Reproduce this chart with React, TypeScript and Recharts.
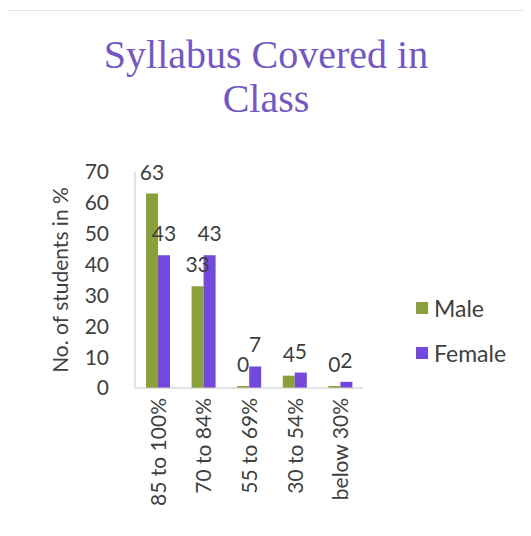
import { BarChart, Bar, XAxis, YAxis, LabelList } from "recharts"

const categories = ["85 to 100%", "70 to 84%", "55 to 69%", "30 to 54%", "below 30%"]
const male = [63, 33, 0, 4, 0]
const female = [43, 43, 7, 5, 2]
const yTicks = [0, 10, 20, 30, 40, 50, 60, 70]

const seriesInfo = [
  { key: "male", name: "Male", color: "#8aa03a" },
  { key: "female", name: "Female", color: "#7349dc" }
]

const data = categories.map((name, i) => ({ name, male: male[i], female: female[i] }))

const FONT = "Lato, 'Open Sans', sans-serif"

const XTick = (props: any) => {
  const { x, y, payload } = props
  return (
    <text
      x={x}
      y={y}
      transform={`rotate(-90, ${x}, ${y})`}
      textAnchor="end"
      dy={8}
      dx={-2}
      fill="#404040"
      fontSize={21}
      fontFamily={FONT}
    >
      {payload.value}
    </text>
  )
}

export default function App() {
  return (
    <div
      style={{
        position: "relative",
        width: 523,
        height: 528,
        marginLeft: -4,
        marginTop: 2,
        borderLeft: "1px solid #cfcfcf",
        borderTop: "1px solid #e4e4e4",
        background: "#fff"
      }}
    >
      <div
        style={{
          position: "absolute",
          left: 0,
          top: 22,
          width: 522,
          textAlign: "center",
          fontFamily: "'Liberation Serif', 'Times New Roman', serif",
          fontSize: 40,
          lineHeight: "44px",
          color: "#7358c4"
        }}
      >
        Syllabus Covered in
        <br />
        Class
      </div>
      <div style={{ position: "absolute", left: 0, top: 0 }}>
        <BarChart
          width={523}
          height={528}
          data={data}
          margin={{ top: 161, right: 165, left: 35, bottom: 0 }}
          barGap={0}
          barSize={12}
        >
          <XAxis
            dataKey="name"
            tick={<XTick />}
            interval={0}
            height={151}
            axisLine={{ stroke: "#c8c8c8" }}
            tickLine={false}
          />
          <YAxis
            domain={[0, 70]}
            ticks={yTicks}
            interval={0}
            width={95}
            tick={{ fill: "#404040", fontSize: 21, fontFamily: FONT }}
            axisLine={{ stroke: "#c8c8c8" }}
            tickLine={false}
            tickMargin={20}
            label={{
              value: "No. of students in %",
              angle: -90,
              position: "insideLeft",
              dx: 16,
              fill: "#404040",
              fontSize: 21,
              fontFamily: FONT,
              style: { textAnchor: "middle" }
            }}
          />
          {seriesInfo.map(s => (
            <Bar key={s.key} dataKey={s.key} name={s.name} fill={s.color} minPointSize={2} isAnimationActive={false}>
              <LabelList dataKey={s.key} position="top" offset={14} fill="#404040" fontSize={21} fontFamily={FONT} />
            </Bar>
          ))}
        </BarChart>
      </div>
      <div style={{ position: "absolute", left: 411, top: 274, fontFamily: FONT, fontSize: 23, color: "#404040" }}>
        {seriesInfo.map(s => (
          <div key={s.key} style={{ display: "flex", alignItems: "center", height: 45 }}>
            <span style={{ width: 12, height: 12, background: s.color, marginRight: 6, display: "inline-block" }} />
            {s.name}
          </div>
        ))}
      </div>
    </div>
  )
}
